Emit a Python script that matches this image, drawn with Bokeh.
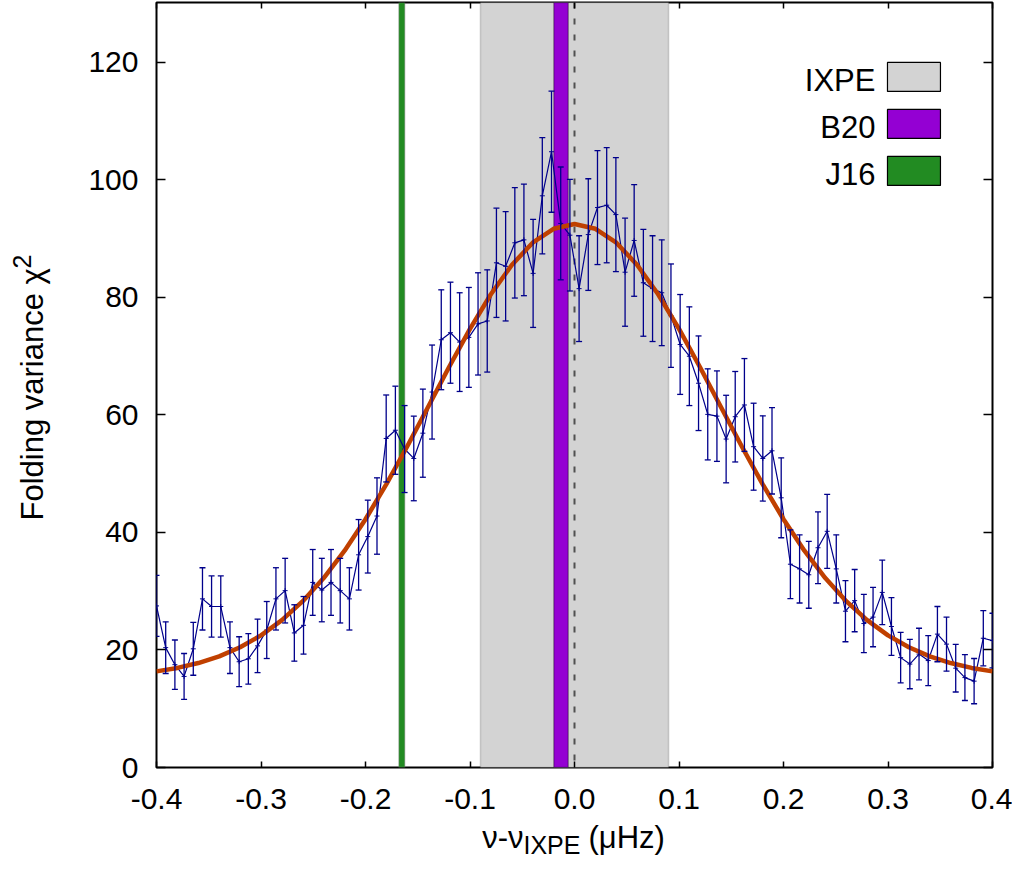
from bokeh.plotting import figure
from bokeh.models import (ColumnDataSource, Whisker, TeeHead, Span, Label,
                          LinearAxis, FixedTicker, Range1d, BoxAnnotation)
from bokeh.layouts import row, column
from bokeh.embed import file_html
from bokeh.resources import INLINE
import math

# ---------------- data ----------------
freq_left = [-0.4000, -0.3912, -0.3824, -0.3736, -0.3648, -0.3560, -0.3473, -0.3385,
             -0.3297, -0.3209, -0.3121, -0.3033, -0.2945, -0.2857, -0.2769, -0.2681,
             -0.2593, -0.2505, -0.2418, -0.2330, -0.2242, -0.2154, -0.2066, -0.1978,
             -0.1890, -0.1802, -0.1714, -0.1626, -0.1538, -0.1451, -0.1363, -0.1275,
             -0.1187, -0.1099, -0.1011, -0.0923, -0.0835, -0.0747, -0.0659, -0.0571,
             -0.0484, -0.0396, -0.0308, -0.0220, -0.0132, -0.0044]
freq_right = [0.0044, 0.0132, 0.0220, 0.0308, 0.0396, 0.0484, 0.0571, 0.0659,
              0.0747, 0.0835, 0.0923, 0.1011, 0.1099, 0.1187, 0.1275, 0.1363,
              0.1451, 0.1538, 0.1626, 0.1714, 0.1802, 0.1890, 0.1978, 0.2066,
              0.2154, 0.2242, 0.2330, 0.2418, 0.2505, 0.2593, 0.2681, 0.2769,
              0.2857, 0.2945, 0.3033, 0.3121, 0.3209, 0.3297, 0.3385, 0.3473,
              0.3560, 0.3648, 0.3736, 0.3824, 0.3912, 0.4000]
freq = freq_left + freq_right

chi2 = [27.5, 20.4, 17.5, 15.5, 20.2, 28.7, 27.4, 27.4, 20.4, 18.0,
        18.5, 20.7, 23.4, 28.7, 30.1, 22.9, 24.2, 31.5, 30.2, 31.5,
        30.1, 28.7, 36.2, 39.3, 42.8, 56.0, 57.4, 54.2, 52.6, 56.9,
        63.9, 72.8, 74.0, 72.4, 73.2, 75.5, 76.0, 85.9, 85.3, 89.3,
        89.8, 84.1, 97.3, 104.8, 92.6, 90.6, 81.5, 90.7, 95.3, 95.7,
        94.1, 84.3, 89.7, 82.5, 81.5, 80.8, 76.9, 72.0, 70.0, 65.4,
        60.1, 59.8, 55.9, 59.7, 61.7, 54.6, 52.6, 53.9, 45.9, 34.6,
        33.8, 32.8, 37.4, 40.2, 33.8, 26.6, 28.4, 24.5, 25.6, 29.8,
        24.0, 18.7, 17.6, 19.3, 18.2, 22.7, 21.0, 16.9, 15.3, 14.7,
        22.0, 21.6]

chi2_err = [5.2, 4.4, 4.2, 3.9, 4.5, 5.3, 5.2, 5.2, 4.4, 4.25,
            4.3, 4.55, 4.85, 5.3, 5.5, 4.8, 4.9, 5.6, 5.4, 5.6,
            5.5, 5.3, 6.0, 6.2, 6.5, 7.4, 7.5, 7.4, 7.2, 7.5,
            8.0, 8.5, 8.6, 8.4, 8.5, 8.7, 8.7, 9.3, 9.3, 9.4,
            9.5, 9.2, 9.9, 10.3, 9.6, 9.5, 9.0, 9.5, 9.7, 9.8,
            9.7, 9.2, 9.5, 9.1, 9.0, 9.0, 8.8, 8.5, 8.4, 8.05,
            7.75, 7.7, 7.45, 7.7, 7.9, 7.4, 7.25, 7.35, 6.8, 5.85,
            5.8, 5.7, 6.1, 6.3, 5.8, 5.2, 5.3, 4.95, 5.05, 5.5,
            4.9, 4.3, 4.2, 4.4, 4.25, 4.7, 4.6, 4.05, 3.9, 3.85,
            4.7, 4.65]

fit_x = [-0.40, -0.38, -0.36, -0.34, -0.32, -0.30, -0.28, -0.26, -0.24, -0.22,
         -0.20, -0.18, -0.16, -0.14, -0.12, -0.10, -0.08, -0.06, -0.04, -0.02,
         0.00, 0.02, 0.04, 0.06, 0.08, 0.10, 0.12, 0.14, 0.16, 0.18,
         0.20, 0.22, 0.24, 0.26, 0.28, 0.30, 0.32, 0.34, 0.36, 0.38, 0.40]
fit_y = [16.36, 16.95, 17.78, 18.92, 20.46, 22.48, 25.08, 28.31, 32.25, 36.90,
         42.25, 48.22, 54.68, 61.41, 68.17, 74.65, 80.55, 85.53, 89.32, 91.69,
         92.50, 91.69, 89.32, 85.53, 80.55, 74.65, 68.17, 61.41, 54.68, 48.22,
         42.25, 36.90, 32.25, 28.31, 25.08, 22.48, 20.46, 18.92, 17.78, 16.95, 16.36]

band_names = ["IXPE", "B20", "J16"]
band_left = [-0.090, -0.0198, -0.1681]
band_right = [0.090, -0.0060, -0.1624]
band_colors = ["#d3d3d3", "#9400d3", "#228b22"]
band_edges = ["#6e6e6e", "#000000", "#7a7a7a"]
ref_freq = 0.0

x_ticks = [-0.4, -0.3, -0.2, -0.1, 0.0, 0.1, 0.2, 0.3, 0.4]
x_tick_labels = ["-0.4", "-0.3", "-0.2", "-0.1", "0.0", "0.1", "0.2", "0.3", "0.4"]
y_ticks = [0, 20, 40, 60, 80, 100, 120]
y_tick_labels = ["0", "20", "40", "60", "80", "100", "120"]

# ---------------- styling ----------------
FONT = "Liberation Sans"
FS_TICK = "30px"
FS_LAB = "31px"
FS_SUB = "25px"
DATA_COLOR = "#00008b"
FIT_COLOR = "#c04000"

YLAB_W = 68          # width of the strip holding the y-axis title
MAIN_W, MAIN_H = 944, 817
XLAB_H = 50          # height of the strip holding the x-axis title
TOTAL_H = MAIN_H + XLAB_H
BORDER_L, BORDER_R = 88, 20

p = figure(width=MAIN_W, height=MAIN_H,
           x_range=Range1d(-0.4, 0.4), y_range=Range1d(0, 130.2),
           output_backend="svg", toolbar_location=None,
           min_border_left=BORDER_L, min_border_right=BORDER_R,
           min_border_top=2, min_border_bottom=50)
p.background_fill_color = "white"
p.border_fill_color = "white"
p.outline_line_color = "black"
p.outline_line_width = 2
p.xgrid.visible = False
p.ygrid.visible = False

# main axes
p.xaxis.ticker = FixedTicker(ticks=x_ticks)
p.xaxis.major_label_overrides = dict(zip(x_ticks, x_tick_labels))
p.yaxis.ticker = FixedTicker(ticks=y_ticks)
p.yaxis.major_label_overrides = dict(zip(y_ticks, y_tick_labels))
for ax in (p.xaxis, p.yaxis):
    ax.axis_line_color = None
    ax.minor_tick_line_color = None
    ax.major_tick_out = 0
    ax.major_tick_line_color = "black"
    ax.major_tick_line_width = 1.5
    ax.major_label_text_font = FONT
    ax.major_label_text_font_size = FS_TICK
    ax.major_label_text_color = "black"
p.xaxis.major_tick_in = 6
p.yaxis.major_tick_in = 9
p.xaxis.major_label_standoff = 21
p.yaxis.major_label_standoff = 18

# mirrored ticks on top and right (no labels)
top_ax = LinearAxis(ticker=FixedTicker(ticks=x_ticks),
                    major_label_overrides={t: "" for t in x_ticks},
                    major_label_text_font_size="1px",
                    major_label_standoff=0, major_tick_in=6, major_tick_out=0,
                    major_tick_line_width=1.5, axis_line_color=None,
                    minor_tick_line_color=None)
right_ax = LinearAxis(ticker=FixedTicker(ticks=y_ticks),
                      major_label_overrides={t: "" for t in y_ticks},
                      major_label_text_font_size="1px",
                      major_label_standoff=0, major_tick_in=9, major_tick_out=0,
                      major_tick_line_width=1.5, axis_line_color=None,
                      minor_tick_line_color=None)
p.add_layout(top_ax, "above")
p.add_layout(right_ax, "right")

# vertical bands
for l, r, fc, ec in zip(band_left, band_right, band_colors, band_edges):
    p.add_layout(BoxAnnotation(left=l, right=r, fill_color=fc, fill_alpha=1.0,
                               line_color=ec, line_width=1.5, level="underlay"))
p.add_layout(Span(location=ref_freq, dimension="height", line_color="#505050",
                  line_width=2, line_dash="6 10", level="underlay"))

# data with error bars
src = ColumnDataSource(data=dict(
    x=freq, y=chi2,
    upper=[v + e for v, e in zip(chi2, chi2_err)],
    lower=[v - e for v, e in zip(chi2, chi2_err)],
))
p.add_layout(Whisker(source=src, base="x", upper="upper", lower="lower",
                     line_color=DATA_COLOR, line_width=1.3,
                     upper_head=TeeHead(size=6, line_color=DATA_COLOR, line_width=1.3),
                     lower_head=TeeHead(size=6, line_color=DATA_COLOR, line_width=1.3),
                     level="glyph"))
p.line("x", "y", source=src, line_color=DATA_COLOR, line_width=1.2)
p.scatter("x", "y", source=src, marker="cross", size=5, line_color=DATA_COLOR,
          line_width=1)

# fit curve
p.line(fit_x, fit_y, line_color=FIT_COLOR, line_width=4.5)

# legend (label left, swatch right)
legend_rows_top = [120.0, 112.0, 104.0]
box_h = 4.93
for name, fc, top in zip(band_names, band_colors, legend_rows_top):
    p.quad(left=[0.2995], right=[0.3502], bottom=[top - box_h], top=[top],
           fill_color=fc, line_color="black", line_width=1.2)
    p.add_layout(Label(x=0.288, y=top - box_h + 0.25, y_offset=9, text=name,
                       text_align="right", text_baseline="alphabetic", text_font=FONT,
                       text_font_size=FS_LAB, text_color="black"))

# ---------------- strip with the y-axis title (units = pixels) ----------------
yfig = figure(width=YLAB_W, height=TOTAL_H, x_range=Range1d(0, YLAB_W),
              y_range=Range1d(0, TOTAL_H), x_axis_type=None, y_axis_type=None,
              output_backend="svg", toolbar_location=None, min_border=0,
              min_border_left=0, min_border_right=0, min_border_top=0,
              min_border_bottom=0, title=None)
yfig.outline_line_color = None
ykw = dict(text_font=FONT, text_color="black", text_baseline="alphabetic",
           text_align="left", angle=math.pi / 2)
yfig.add_layout(Label(x=32, y=TOTAL_H - 520, text="Folding variance χ",
                      text_font_size=FS_LAB, **ykw))
yfig.add_layout(Label(x=21, y=TOTAL_H - 268, text="2", text_font_size=FS_SUB, **ykw))

# ---------------- strip with the x-axis title (shares the x scale) ----------------
xfig = figure(width=MAIN_W, height=XLAB_H, x_range=p.x_range,
              y_range=Range1d(0, XLAB_H), x_axis_type=None, y_axis_type=None,
              output_backend="svg", toolbar_location=None, min_border=0,
              min_border_left=BORDER_L, min_border_right=BORDER_R,
              min_border_top=0, min_border_bottom=0, title=None)
xfig.outline_line_color = None
xkw = dict(text_font=FONT, text_color="black", text_baseline="alphabetic")
base = TOTAL_H - 846 + 9
junction = -0.0488   # where the subscript starts (x data units)
xfig.add_layout(Label(x=junction, y=base, text="ν-ν", text_align="right",
                      text_font_size=FS_LAB, **xkw))
xfig.add_layout(Label(x=junction, y=base - 7, text="IXPE", text_align="left",
                      text_font_size=FS_SUB, **xkw))
xfig.add_layout(Label(x=junction, x_offset=65, y=base, text="(μHz)", text_align="left",
                      text_font_size=FS_LAB, **xkw))

layout = row(yfig, column(p, xfig, spacing=0), spacing=0)
open("out.html", "w").write(file_html(layout, INLINE))
